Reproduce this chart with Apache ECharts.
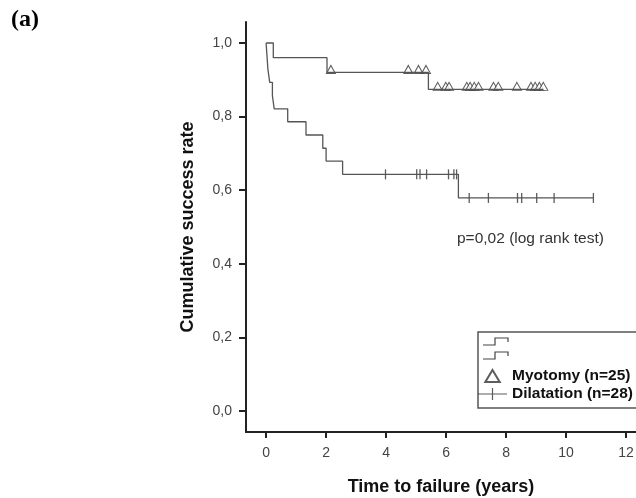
<!DOCTYPE html>
<html>
<head>
<meta charset="utf-8">
<script src="https://cdn.jsdelivr.net/npm/echarts@6/dist/echarts.min.js"></script>
<style>
  html, body { margin: 0; padding: 0; background: #fff; }
  #main { width: 636px; height: 498px; }
</style>
</head>
<body>
<div id="main"></div>
<script>
// Kaplan-Meier steps
var myoTimes = [0, 0.24, 2.03, 5.41];
var myoSurv = [1.0, 0.96, 0.92, 0.874];
var myoCensored = [2.16, 4.74, 5.08, 5.33, 5.72, 5.99, 6.1, 6.69, 6.8, 6.94, 7.08, 7.58, 7.74, 8.36, 8.83, 8.97, 9.11, 9.24];

var dilTimes = [0, 0.06, 0.12, 0.21, 0.27, 0.72, 1.33, 1.89, 2.0, 2.55, 6.41];
var dilSurv = [1.0, 0.929, 0.893, 0.857, 0.821, 0.786, 0.75, 0.714, 0.679, 0.643, 0.579];
var dilCensored = [3.98, 5.02, 5.13, 5.35, 6.08, 6.26, 6.35, 6.77, 7.41, 8.38, 8.52, 9.02, 9.6, 10.91];

var xTicks = [0, 2, 4, 6, 8, 10, 12];
var yTicks = [0, 0.2, 0.4, 0.6, 0.8, 1.0];

var names = ['Myotomy (n=25)', 'Dilatation (n=28)'];

// value of the step curve at time t
function survAt(times, surv, t) {
    var v = surv[0];
    for (var i = 0; i < times.length; i++) {
        if (times[i] <= t) v = surv[i];
    }
    return v;
}

function stepData(times, surv, censored) {
    var d = [];
    for (var i = 0; i < times.length; i++) d.push([times[i], surv[i]]);
    var last = censored[censored.length - 1];
    d.push([last, survAt(times, surv, last)]);
    return d;
}

function censorData(times, surv, censored) {
    return censored.map(function (t) { return [t, survAt(times, surv, t)]; });
}

var lineColor = '#555';
var labelFont = 'Liberation Sans, Arial, sans-serif';

var dom = document.getElementById('main');
var myChart = echarts.init(dom);

var option = {
    animation: false,
    grid: { left: 246, right: 0, top: 22, bottom: 66, containLabel: false, outerBoundsMode: 'none' },
    xAxis: {
        type: 'value',
        min: -0.67,
        max: 12.33,
        name: 'Time to failure (years)',
        nameLocation: 'middle',
        nameGap: 46,
        nameTextStyle: { fontFamily: labelFont, fontSize: 18, fontWeight: 'bold', color: '#111' },
        axisLine: { onZero: false, lineStyle: { color: '#222', width: 2 } },
        axisTick: { customValues: xTicks, length: 6, lineStyle: { color: '#222', width: 2 } },
        axisLabel: { customValues: xTicks, fontFamily: labelFont, fontSize: 14, color: '#444', margin: 14 },
        splitLine: { show: false }
    },
    yAxis: {
        type: 'value',
        min: -0.057,
        max: 1.057,
        name: 'Cumulative success rate',
        nameLocation: 'middle',
        nameGap: 49,
        nameTextStyle: { fontFamily: labelFont, fontSize: 18, fontWeight: 'bold', color: '#111' },
        axisLine: { show: true, onZero: false, lineStyle: { color: '#222', width: 2 } },
        axisTick: { show: true, customValues: yTicks, length: 7, lineStyle: { color: '#222', width: 2 } },
        axisLabel: {
            customValues: yTicks, fontFamily: labelFont, fontSize: 14, color: '#444', margin: 14,
            formatter: function (v) { return v.toFixed(1).replace('.', ','); }
        },
        splitLine: { show: false }
    },
    legend: {
        orient: 'vertical',
        left: 478,
        top: 368,
        padding: 0,
        itemGap: 2,
        itemWidth: 29,
        itemHeight: 12,
        textStyle: { fontFamily: labelFont, fontSize: 15.5, fontWeight: 'bold', color: '#111' },
        data: [
            { name: names[0], icon: 'path://M6,0 L12,10 L0,10 Z' },
            { name: names[1], icon: 'path://M0,5.4 L29,5.4 L29,6.6 L0,6.6 Z M13.9,0 L15.1,0 L15.1,12 L13.9,12 Z' }
        ]
    },
    graphic: [
        { type: 'text', left: 11, top: 8, style: { text: '(a)', font: 'bold 24px "Liberation Serif", "Times New Roman", serif', fill: '#000' } },
        { type: 'text', left: 457, top: 231, style: { text: 'p=0,02 (log rank test)', font: '15.5px "Liberation Sans", Arial, sans-serif', fill: '#333' } },
        { type: 'rect', shape: { x: 478, y: 332, width: 200, height: 76 }, style: { fill: 'none', stroke: '#555', lineWidth: 1.5 } },
        { type: 'polyline', shape: { points: [[483, 345], [495, 345], [495, 338], [508, 338], [508, 342]] }, style: { fill: 'none', stroke: '#444', lineWidth: 1.2 } },
        { type: 'polyline', shape: { points: [[483, 359], [495, 359], [495, 352], [508, 352], [508, 356]] }, style: { fill: 'none', stroke: '#444', lineWidth: 1.2 } }
    ],
    series: [
        {
            name: 'myotomy-curve',
            type: 'line',
            step: 'end',
            showSymbol: false,
            lineStyle: { color: lineColor, width: 1.3 },
            data: stepData(myoTimes, myoSurv, myoCensored)
        },
        {
            name: 'dilatation-curve',
            type: 'line',
            step: 'end',
            showSymbol: false,
            lineStyle: { color: lineColor, width: 1.3 },
            data: stepData(dilTimes, dilSurv, dilCensored)
        },
        {
            name: names[0],
            type: 'scatter',
            symbol: 'triangle',
            symbolSize: [9, 8],
            symbolOffset: [0, -3],
            itemStyle: { color: '#fff', borderColor: '#333', borderWidth: 1 },
            data: censorData(myoTimes, myoSurv, myoCensored)
        },
        {
            name: names[1],
            type: 'scatter',
            symbol: 'rect',
            symbolSize: [1.3, 10],
            itemStyle: { color: '#333' },
            data: censorData(dilTimes, dilSurv, dilCensored)
        }
    ]
};

myChart.setOption(option, true);
</script>
</body>
</html>
